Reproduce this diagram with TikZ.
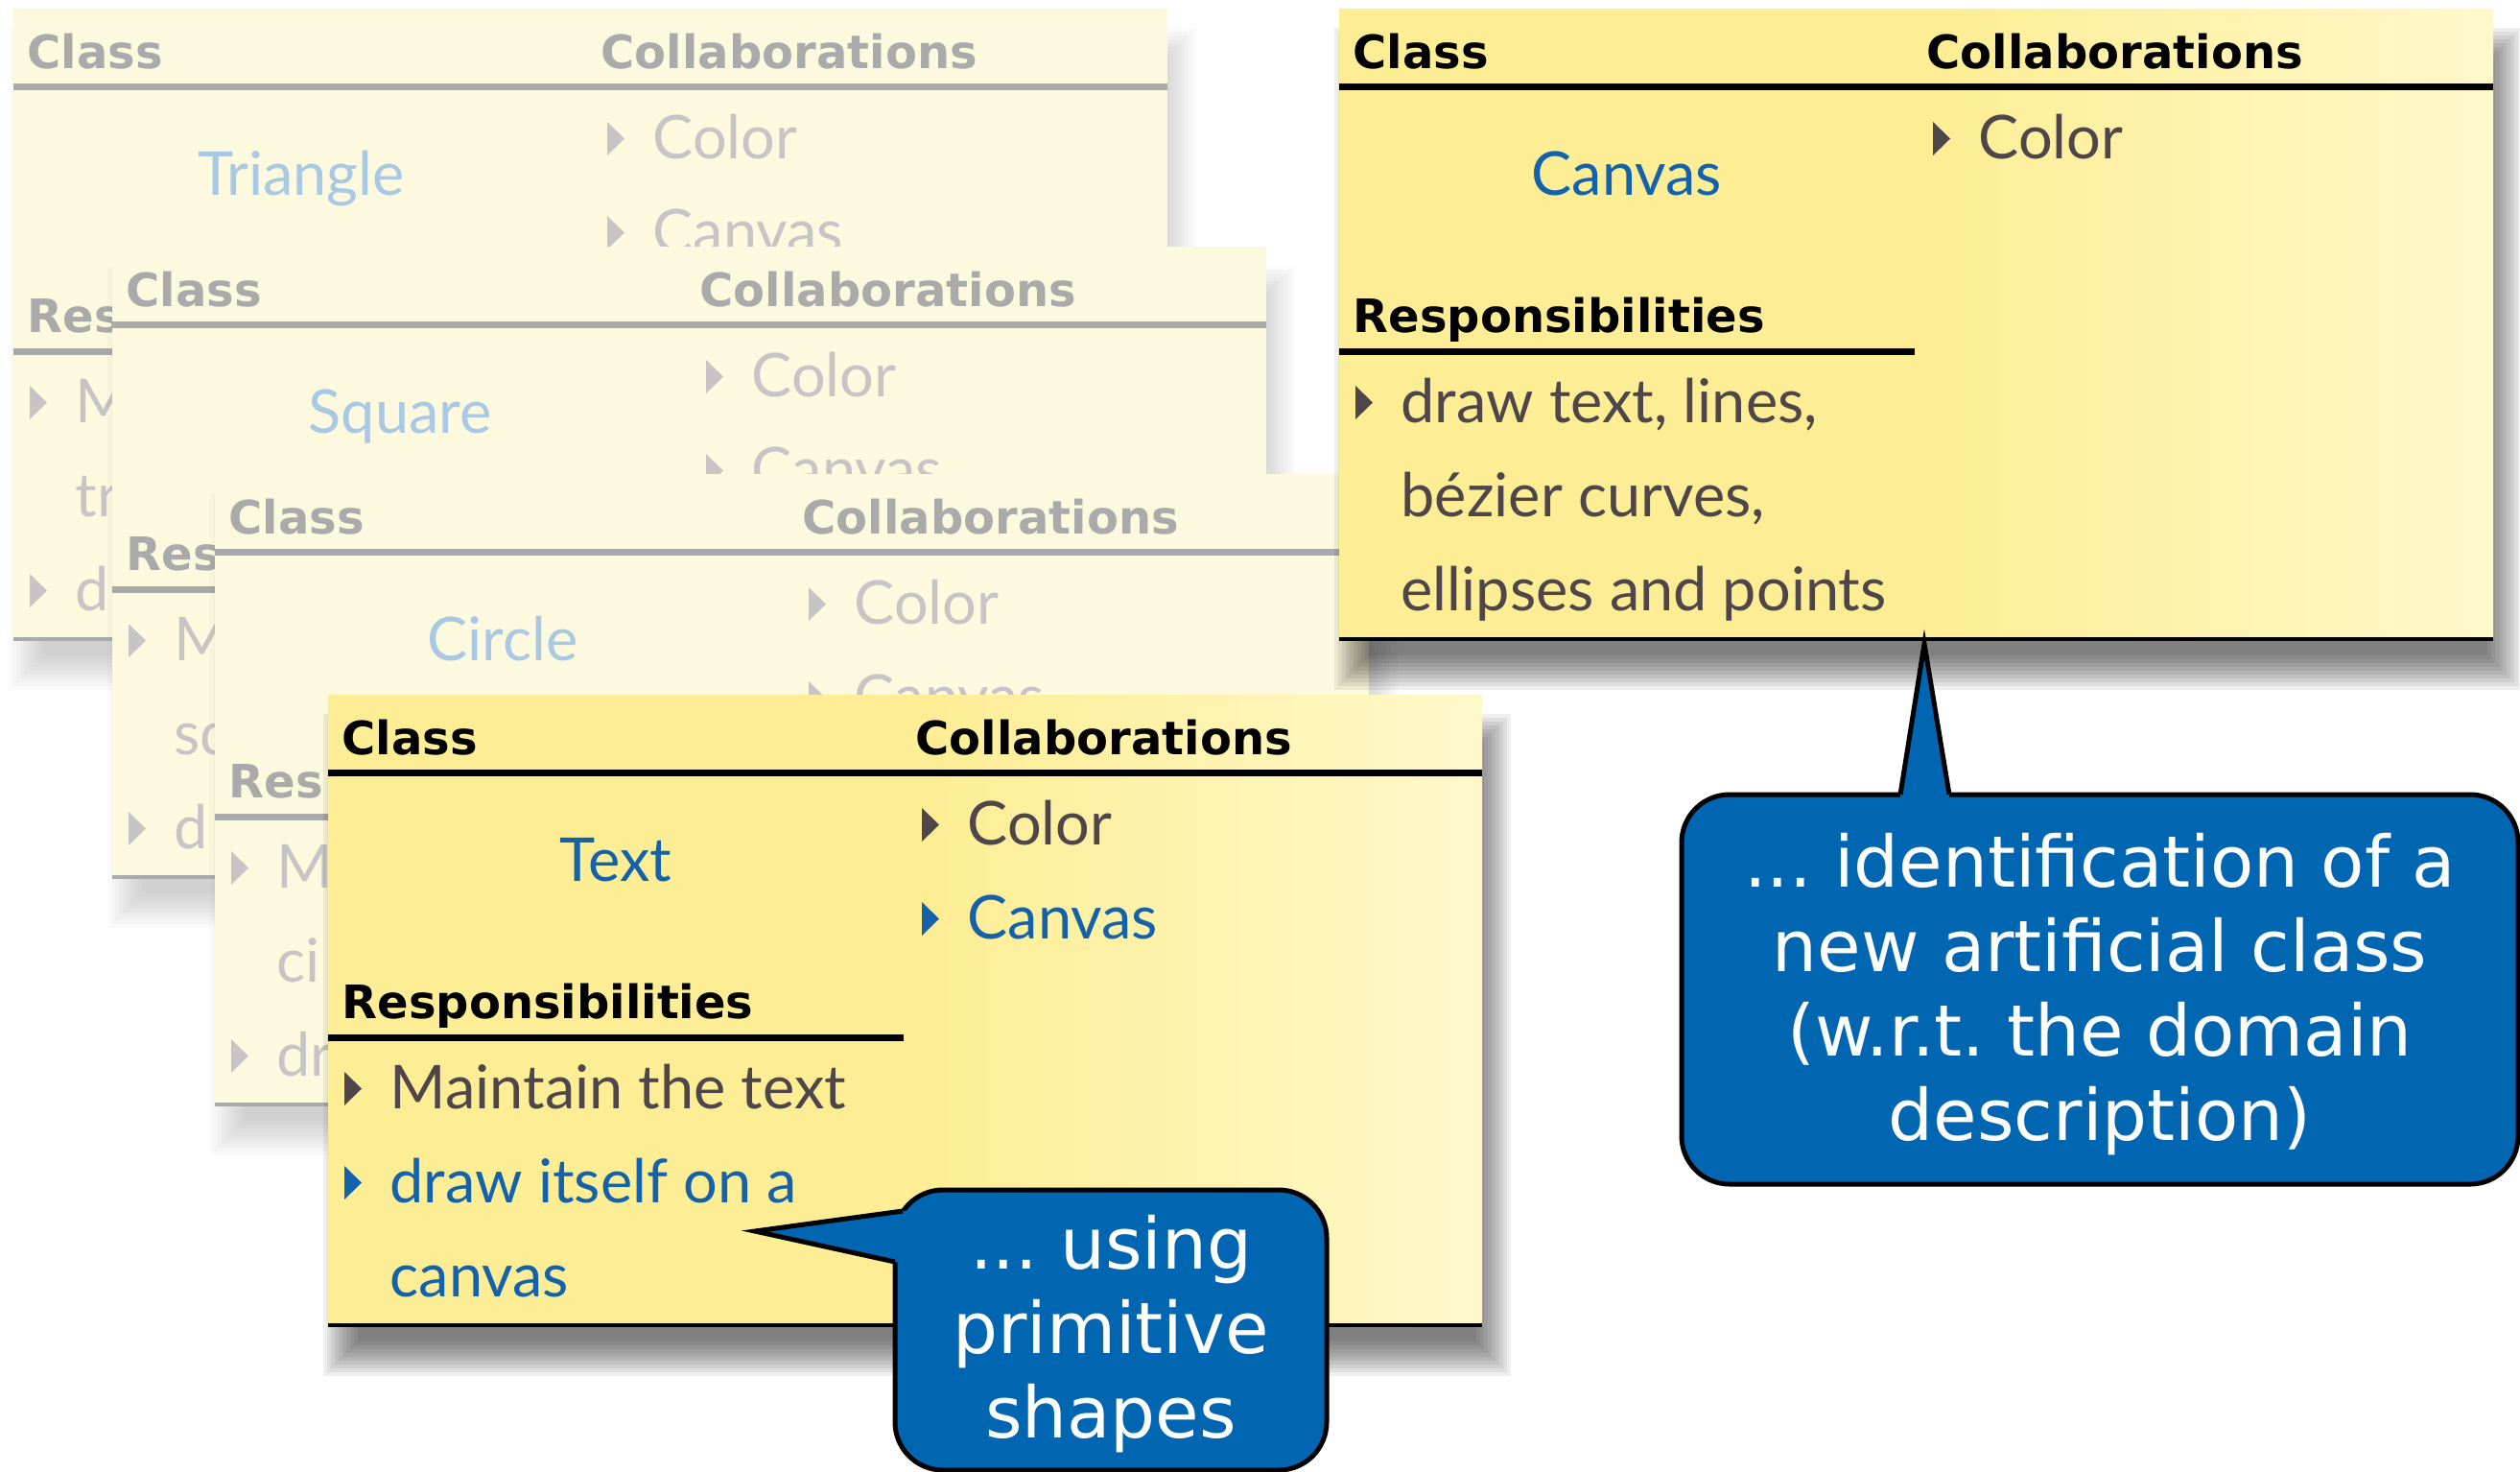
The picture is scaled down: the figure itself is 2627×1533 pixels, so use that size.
\documentclass[tikz,border=0pt]{standalone}
\usepackage{fontspec}
\setmainfont{DejaVu Sans}
\newfontfamily\handfont{Lato}
\usepackage{tikz}
\frenchspacing

\definecolor{cardyellow}{RGB}{253,238,150}
\definecolor{cardlight}{RGB}{255,248,202}
\definecolor{cardfaded}{RGB}{253,249,222}
\definecolor{inkgray}{RGB}{78,70,72}
\definecolor{inkblue}{RGB}{20,98,170}
\definecolor{fadedhead}{RGB}{170,170,170}
\definecolor{fadedink}{RGB}{200,196,198}
\definecolor{fadedblue}{RGB}{168,200,228}
\definecolor{bubbleblue}{RGB}{0,102,178}

\begin{document}
\begin{tikzpicture}[x=0.3pt,y=0.3pt,yscale=-1,xscale=1,
  head/.style={anchor=base west,inner sep=0pt,font=\bfseries\fontsize{14.4}{17}\selectfont},
  item/.style={anchor=base west,inner sep=0pt,font=\handfont\fontsize{18.9}{22}\selectfont},
  cname/.style={anchor=base,inner sep=0pt,font=\handfont\fontsize{18.9}{22}\selectfont},
  bubble/.style={fill=bubbleblue,draw=black,line width=1.5pt,rounded corners=15pt},
  bubbletext/.style={text=white,align=center,inner sep=0pt,font=\fontsize{22.2}{26.4}\selectfont}]

\useasboundingbox (0,0) rectangle (2627,1533);

%Card [Triangle]
\begin{scope}[shift={(14,9)}]
  \foreach \k in {0,...,9} \fill[black,opacity=0.02] ({-5+4*\k},{20+4*\k}) rectangle ({1233-4*\k},{710-4*\k});
  \fill[cardfaded] (0,0) rectangle (1203,657);
  \draw[fadedhead,line width=2.1pt] (0,81) -- (1203,81);
  \draw[fadedhead,line width=2.1pt] (0,357) -- (600,357);
  \draw[fadedhead,line width=1.2pt] (0,657) -- (1203,657);
  % Text Node
  \node[head,fadedhead] (tri-class) at (14,62) {Class};
  \node[head,fadedhead] (tri-collab) at (612,62) {Collaborations};
  \node[cname,fadedblue] (tri-name) at (300,194) {Triangle};
  \node[head,fadedhead] (tri-resp) at (14,337) {Res};
  % Bullets
  \fill[fadedink] (619,118) -- (619,153) -- (637,135.5) -- cycle;
  \fill[fadedink] (619,216) -- (619,251) -- (637,233.5) -- cycle;
  \fill[fadedink] (17,393) -- (17,428) -- (35,410.5) -- cycle;
  \fill[fadedink] (17,589) -- (17,624) -- (35,606.5) -- cycle;
  % Text Node
  \node[item,fadedink] (tri-c1) at (666,156) {Color};
  \node[item,fadedink] (tri-c2) at (666,254) {Canvas};
  \node[item,fadedink] (tri-r1) at (64,431) {M};
  \node[item,fadedink] (tri-r1b) at (64,529) {tr};
  \node[item,fadedink] (tri-r2) at (64,627) {d};
\end{scope}

%Card [Square]
\begin{scope}[shift={(117,257)}]
  \foreach \k in {0,...,9} \fill[black,opacity=0.02] ({-5+4*\k},{20+4*\k}) rectangle ({1233-4*\k},{710-4*\k});
  \fill[cardfaded] (0,0) rectangle (1203,657);
  \draw[fadedhead,line width=2.1pt] (0,81) -- (1203,81);
  \draw[fadedhead,line width=2.1pt] (0,357) -- (600,357);
  \draw[fadedhead,line width=1.2pt] (0,657) -- (1203,657);
  % Text Node
  \node[head,fadedhead] (sq-class) at (14,62) {Class};
  \node[head,fadedhead] (sq-collab) at (612,62) {Collaborations};
  \node[cname,fadedblue] (sq-name) at (300,194) {Square};
  \node[head,fadedhead] (sq-resp) at (14,337) {Res};
  % Bullets
  \fill[fadedink] (619,118) -- (619,153) -- (637,135.5) -- cycle;
  \fill[fadedink] (619,216) -- (619,251) -- (637,233.5) -- cycle;
  \fill[fadedink] (17,393) -- (17,428) -- (35,410.5) -- cycle;
  \fill[fadedink] (17,589) -- (17,624) -- (35,606.5) -- cycle;
  % Text Node
  \node[item,fadedink] (sq-c1) at (666,156) {Color};
  \node[item,fadedink] (sq-c2) at (666,254) {Canvas};
  \node[item,fadedink] (sq-r1) at (64,431) {M};
  \node[item,fadedink] (sq-r1b) at (64,529) {sq};
  \node[item,fadedink] (sq-r2) at (64,627) {d};
\end{scope}

%Card [Circle]
\begin{scope}[shift={(224,494)}]
  \foreach \k in {0,...,9} \fill[black,opacity=0.02] ({-5+4*\k},{20+4*\k}) rectangle ({1233-4*\k},{710-4*\k});
  \fill[cardfaded] (0,0) rectangle (1203,657);
  \draw[fadedhead,line width=2.1pt] (0,81) -- (1203,81);
  \draw[fadedhead,line width=2.1pt] (0,357) -- (600,357);
  \draw[fadedhead,line width=1.2pt] (0,657) -- (1203,657);
  % Text Node
  \node[head,fadedhead] (ci-class) at (14,62) {Class};
  \node[head,fadedhead] (ci-collab) at (612,62) {Collaborations};
  \node[cname,fadedblue] (ci-name) at (300,194) {Circle};
  \node[head,fadedhead] (ci-resp) at (14,337) {Res};
  % Bullets
  \fill[fadedink] (619,118) -- (619,153) -- (637,135.5) -- cycle;
  \fill[fadedink] (619,216) -- (619,251) -- (637,233.5) -- cycle;
  \fill[fadedink] (17,393) -- (17,428) -- (35,410.5) -- cycle;
  \fill[fadedink] (17,589) -- (17,624) -- (35,606.5) -- cycle;
  % Text Node
  \node[item,fadedink] (ci-c1) at (666,156) {Color};
  \node[item,fadedink] (ci-c2) at (666,254) {Canvas};
  \node[item,fadedink] (ci-r1) at (64,431) {M};
  \node[item,fadedink] (ci-r1b) at (64,529) {ci};
  \node[item,fadedink] (ci-r2) at (64,627) {dr};
\end{scope}

%Card [Text]
\begin{scope}[shift={(342,724)}]
  \foreach \k in {0,...,9} \fill[black,opacity=0.065] ({-5+4*\k},{20+4*\k}) rectangle ({1233-4*\k},{710-4*\k});
  \fill[cardyellow] (0,0) rectangle (640,657);
  \shade[left color=cardyellow,right color=cardlight] (639,0) rectangle (1203,657);
  \draw[black,line width=2.1pt] (0,81) -- (1203,81);
  \draw[black,line width=2.1pt] (0,357) -- (600,357);
  \draw[black,line width=1.2pt] (0,657) -- (1203,657);
  % Text Node
  \node[head] (txt-class) at (14,62) {Class};
  \node[head] (txt-collab) at (612,62) {Collaborations};
  \node[cname,inkblue] (txt-name) at (300,194) {Text};
  \node[head] (txt-resp) at (14,337) {Responsibilities};
  % Bullets
  \fill[inkgray] (619,118) -- (619,153) -- (637,135.5) -- cycle;
  \fill[inkblue] (619,216) -- (619,251) -- (637,233.5) -- cycle;
  \fill[inkgray] (17,393) -- (17,428) -- (35,410.5) -- cycle;
  \fill[inkblue] (17,491) -- (17,526) -- (35,508.5) -- cycle;
  % Text Node
  \node[item,inkgray] (txt-c1) at (666,156) {Color};
  \node[item,inkblue] (txt-c2) at (666,254) {Canvas};
  \node[item,inkgray] (txt-r1) at (64,431) {Maintain the text};
  \node[item,inkblue] (txt-r2) at (64,529) {draw itself on a};
  \node[item,inkblue] (txt-r2b) at (64,627) {canvas};
\end{scope}

%Card [Canvas]
\begin{scope}[shift={(1396,9)}]
  \foreach \k in {0,...,9} \fill[black,opacity=0.065] ({-5+4*\k},{20+4*\k}) rectangle ({1233-4*\k},{710-4*\k});
  \fill[cardyellow] (0,0) rectangle (640,657);
  \shade[left color=cardyellow,right color=cardlight] (639,0) rectangle (1203,657);
  \draw[black,line width=2.1pt] (0,81) -- (1203,81);
  \draw[black,line width=2.1pt] (0,357) -- (600,357);
  \draw[black,line width=1.2pt] (0,657) -- (1203,657);
  % Text Node
  \node[head] (cv-class) at (14,62) {Class};
  \node[head] (cv-collab) at (612,62) {Collaborations};
  \node[cname,inkblue] (cv-name) at (300,194) {Canvas};
  \node[head] (cv-resp) at (14,337) {Responsibilities};
  % Bullets
  \fill[inkgray] (619,118) -- (619,153) -- (637,135.5) -- cycle;
  \fill[inkgray] (17,393) -- (17,428) -- (35,410.5) -- cycle;
  % Text Node
  \node[item,inkgray] (cv-c1) at (666,156) {Color};
  \node[item,inkgray] (cv-r1) at (64,431) {draw text, lines,};
  \node[item,inkgray] (cv-r1b) at (64,529) {bézier curves,};
  \node[item,inkgray] (cv-r1c) at (64,627) {ellipses and points};
\end{scope}

%Callout [identification]
\coordinate (identtip) at (2006,671);
\draw[bubble] (1753,828) rectangle (2625,1234);
\fill[bubbleblue] (1980,836) -- (identtip) -- (2033,836) -- cycle;
\draw[line width=1.5pt,miter limit=20] (1981,828) -- (identtip) -- (2032,828);
% Text Node
\node[bubbletext] (ident) at (2189,1036) {... identification of a\\new artificial class\\(w.r.t. the domain\\description)};

%Callout [primitive shapes]
\coordinate (usingtip) at (787,1283);
\draw[bubble] (933,1240) rectangle (1383,1532);
\fill[bubbleblue] (usingtip) -- (950,1260.8) -- (945,1317.6) -- cycle;
\draw[line width=1.5pt,miter limit=20] (941,1262) -- (usingtip) -- (933,1315);
% Text Node
\node[bubbletext] (using) at (1158,1390) {... using\\primitive\\shapes};

\end{tikzpicture}
\end{document}
